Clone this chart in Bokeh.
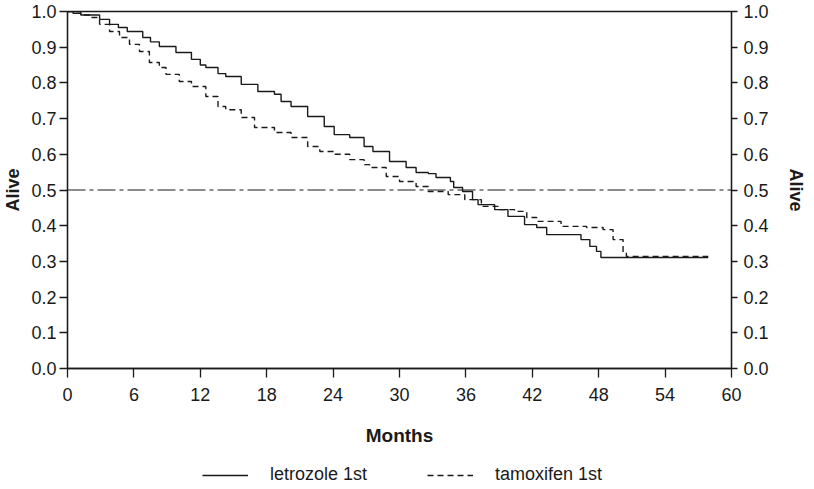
from bokeh.plotting import figure
from bokeh.layouts import column
from bokeh.models import Range1d, LinearAxis, FixedTicker, NumeralTickFormatter, Span, Legend, LegendItem
from bokeh.embed import file_html
from bokeh.resources import INLINE

# Kaplan-Meier estimates
months_letrozole = [0, 0.5, 1.2, 2.9, 3.8, 4.6, 5.4, 6.8, 7.5, 8.3, 9.8, 11.2, 12.0, 12.5, 13.6,
                    14.3, 15.7, 17.2, 18.7, 19.3, 20.2, 21.7, 23.2, 24.1, 25.5, 26.8, 27.6, 29.1,
                    30.6, 31.5, 32.6, 33.3, 34.6, 34.9, 35.7, 36.6, 37.1, 38.6, 39.8, 41.3, 42.4,
                    43.3, 46.4, 47.2, 47.8, 48.2, 57.9]
alive_letrozole = [1.0, 0.995, 0.99, 0.978, 0.964, 0.955, 0.944, 0.927, 0.915, 0.902, 0.885, 0.866,
                   0.85, 0.843, 0.826, 0.818, 0.796, 0.776, 0.768, 0.748, 0.734, 0.706, 0.678, 0.655,
                   0.647, 0.622, 0.608, 0.58, 0.563, 0.549, 0.546, 0.535, 0.524, 0.507, 0.496, 0.473,
                   0.459, 0.445, 0.426, 0.403, 0.395, 0.375, 0.361, 0.342, 0.328, 0.311, 0.311]

months_tamoxifen = [0, 1.2, 2.0, 2.9, 3.8, 4.7, 5.6, 6.5, 7.4, 8.3, 8.9, 10.1, 11.2, 12.5, 13.6,
                    14.3, 15.7, 16.9, 18.7, 20.2, 21.7, 22.8, 24.1, 25.5, 26.8, 27.3, 28.8, 30.0,
                    31.5, 32.6, 34.4, 35.9, 37.4, 38.9, 40.4, 41.5, 42.4, 44.6, 46.9, 48.4, 49.3,
                    50.2, 50.5, 57.9]
alive_tamoxifen = [1.0, 0.99, 0.983, 0.964, 0.944, 0.927, 0.908, 0.888, 0.857, 0.843, 0.824, 0.804,
                   0.79, 0.762, 0.734, 0.725, 0.703, 0.675, 0.661, 0.647, 0.622, 0.608, 0.6, 0.585,
                   0.571, 0.563, 0.538, 0.524, 0.51, 0.496, 0.487, 0.473, 0.454, 0.445, 0.44, 0.423,
                   0.412, 0.398, 0.395, 0.389, 0.361, 0.325, 0.314, 0.314]

x_ticks = [0, 6, 12, 18, 24, 30, 36, 42, 48, 54, 60]
y_ticks = [0.0, 0.1, 0.2, 0.3, 0.4, 0.5, 0.6, 0.7, 0.8, 0.9, 1.0]
median_level = 0.5
series_names = ["letrozole 1st", "tamoxifen 1st"]

FONT = "Liberation Sans"
INK = "#1a1a1a"
DASH = "6 4"
W = 808

p = figure(width=W, height=448, output_backend="svg", toolbar_location=None,
           x_range=Range1d(0, 60), y_range=Range1d(0, 1),
           min_border_left=63, min_border_right=72, min_border_top=11, min_border_bottom=80,
           x_axis_label="Months", y_axis_label="Alive")
p.grid.visible = False
p.outline_line_color = INK
p.outline_line_width = 1.3
p.background_fill_color = "white"
p.border_fill_color = "white"

right_axis = LinearAxis(axis_label="Alive")
p.add_layout(right_axis, "right")

for ax in p.xaxis:
    ax.ticker = FixedTicker(ticks=x_ticks)
    ax.major_tick_out = 9
    ax.major_label_standoff = 10
    ax.axis_label_standoff = 21
    ax.axis_label_text_font_size = "19px"

for ax in list(p.yaxis):
    ax.ticker = FixedTicker(ticks=y_ticks)
    ax.formatter = NumeralTickFormatter(format="0.0")
    ax.axis_label_text_font_size = "18px"

p.yaxis[0].major_tick_out = 8
p.yaxis[0].major_label_standoff = 3
p.yaxis[0].axis_label_standoff = 5
right_axis.major_tick_out = 6
right_axis.major_label_standoff = 6
right_axis.axis_label_standoff = 14

for ax in list(p.xaxis) + list(p.yaxis):
    ax.minor_tick_line_color = None
    ax.major_tick_in = 0
    ax.axis_line_color = INK
    ax.axis_line_width = 1.3
    ax.major_tick_line_color = INK
    ax.major_tick_line_width = 1.3
    ax.major_label_text_font = FONT
    ax.major_label_text_font_size = "18px"
    ax.major_label_text_color = INK
    ax.axis_label_text_font = FONT
    ax.axis_label_text_font_style = "bold"
    ax.axis_label_text_color = INK

p.add_layout(Span(location=median_level, dimension="width", line_color=INK,
                  line_width=1.2, line_dash="18 4 4 4"))

p.step(months_letrozole, alive_letrozole, mode="after", line_color=INK, line_width=1.4)
p.step(months_tamoxifen, alive_tamoxifen, mode="after", line_color=INK, line_width=1.4,
       line_dash=DASH)

# legend strip below the chart (keys carry no visible data)
nan = float("nan")
lg = figure(width=W, height=37, output_backend="svg", toolbar_location=None,
            x_axis_type=None, y_axis_type=None, x_range=Range1d(0, 1), y_range=Range1d(0, 1),
            min_border_left=0, min_border_right=0, min_border_top=0, min_border_bottom=0)
lg.grid.visible = False
lg.outline_line_color = None
lg.border_fill_color = "white"
k1 = lg.line(x=[nan], y=[nan], line_color=INK, line_width=1.4)
k2 = lg.line(x=[nan], y=[nan], line_color=INK, line_width=1.4, line_dash=DASH)
legend = Legend(items=[LegendItem(label=series_names[0], renderers=[k1]),
                       LegendItem(label=series_names[1], renderers=[k2])],
                orientation="horizontal", location=(135, 0),
                glyph_width=46, glyph_height=20, label_standoff=22, spacing=60,
                padding=0, margin=0, border_line_color=None, background_fill_alpha=0,
                label_text_font=FONT, label_text_font_size="18px", label_text_color=INK)
lg.add_layout(legend, "center")

layout = column(p, lg, spacing=0)
open("out.html", "w").write(file_html(layout, INLINE))
